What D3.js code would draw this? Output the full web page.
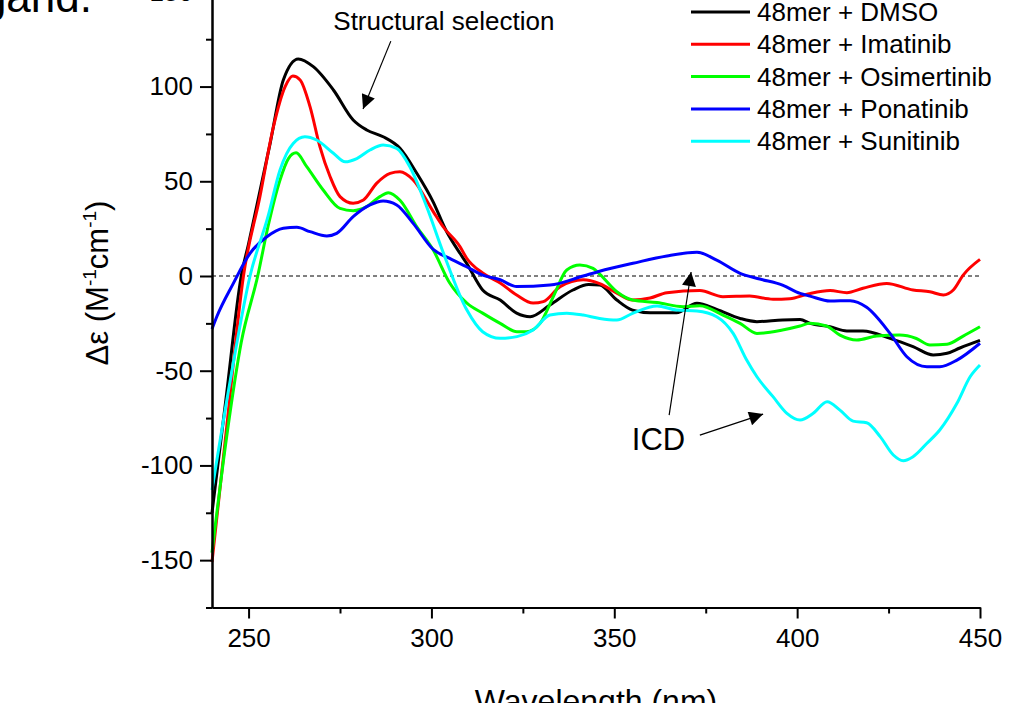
<!DOCTYPE html>
<html>
<head>
<meta charset="utf-8">
<script src="https://cdn.jsdelivr.net/npm/d3@7"></script>
<style>
  body { margin: 0; background: #fff; }
  svg { display: block; font-family: Arial, "Liberation Sans", sans-serif; }
  .axis path, .axis line { stroke: #000; stroke-width: 2px; }
  .axis text { font-size: 26px; fill: #000; font-family: Arial, "Liberation Sans", sans-serif; }
</style>
</head>
<body>
<div id="chart"></div>
<script>
// ---- data ----
var seriesNames = ["48mer + DMSO", "48mer + Imatinib", "48mer + Osimertinib", "48mer + Ponatinib", "48mer + Sunitinib"];
var seriesColors = ["#000000", "#ff0000", "#00ff00", "#0000ff", "#00ffff"];

var dmso = [[240,-125],[244,-62],[248,0],[250,17],[252.2,36.6],[255.9,70],[259.5,103.5],[263.6,114.6],[267.7,110.5],[273.2,98.2],[278.6,82.4],[282.3,77.1],[286.8,73.5],[291.4,67.4],[296,54.2],[300.5,39],[304,24],[307.8,12],[309.6,6.8],[314,-7.4],[318.8,-12.7],[323.3,-19.6],[327,-21.5],[332.4,-15.3],[338.7,-7.4],[343,-4.5],[346,-4.8],[350.7,-12.7],[355,-18],[359.8,-19.4],[367,-19.4],[372.6,-14.4],[378,-17.6],[384.4,-22.4],[389,-24.1],[396,-23.2],[400.8,-23],[403.5,-25],[409,-26.8],[413.6,-29],[418,-29],[425.4,-32.9],[431.7,-37.3],[437.2,-41.7],[441,-40.8],[444.5,-38],[450,-34]];

var imatinib = [[240,-151],[244,-80],[248.6,0],[253.1,41.9],[256.8,78.8],[260,100],[262.1,105.6],[264.1,103.5],[266.8,89.4],[269.5,68.3],[272.3,52.4],[275,41.9],[278.6,38.4],[281.4,40.1],[285,48.9],[288.7,54.2],[291.4,55],[295,50.7],[300.5,34],[303.2,26],[307.8,15.5],[309.6,9.5],[314,1.6],[318.8,-3.7],[323.3,-10],[327.8,-14.3],[330.6,-13.5],[335.2,-5.6],[341.5,-2],[346,-4],[350.7,-9],[355,-12.7],[359.8,-11.6],[364.4,-8.8],[373.4,-7.7],[379.7,-10.9],[387,-10.6],[393.4,-12.3],[398,-12],[403,-9.5],[409,-7.7],[413.6,-8.8],[418,-6.5],[424.5,-3.9],[431.7,-7.4],[436.3,-8.3],[440,-10],[442.7,-7.4],[445.4,0.5],[450,8.8]];

var osimertinib = [[240,-146],[244,-85],[248,-35],[252.5,0],[255.3,26],[258.6,50.7],[260.9,62],[263,65],[265.9,57.7],[270.4,45.4],[275,35.7],[278.6,34.5],[282.3,36.6],[285.9,41.9],[288.2,44],[291.4,40],[296,26],[300.5,13.7],[305,-3.7],[309.7,-14.3],[314,-19.6],[318.8,-25],[323.4,-29.4],[326,-29.4],[329.7,-25],[333.3,-11],[337,3.2],[340.6,5.8],[344.2,4],[346,1],[350.7,-8.3],[355,-12.7],[361.7,-14],[368.8,-16.2],[373.4,-15.7],[379.7,-20.6],[384.4,-25],[389,-30.3],[396,-28.5],[400.8,-26.4],[403.5,-25],[408,-26.4],[411.7,-31.2],[416.3,-33.8],[421.8,-31.7],[428,-31.2],[432.6,-33],[436.3,-36.4],[441,-36],[445.4,-31.7],[450,-26.8]];

var ponatinib = [[240,-28],[241.3,-21.5],[245.8,-4],[250.4,12],[255,20.7],[259.5,25.2],[263.2,25.7],[266.8,23.4],[271.4,21.1],[274.1,22.5],[278.6,31.3],[283.2,37.5],[286.8,39.6],[290.5,37.5],[295,27.8],[300.5,14],[305,9.3],[309.6,4.9],[314,0.5],[318.8,-2],[323.3,-5.6],[332.4,-4.8],[341.5,0],[346,2.5],[355.1,6.7],[364.4,10.6],[372.6,12.5],[378,8.4],[384.4,1.4],[389.8,-1.6],[396,-4.8],[400.8,-9.2],[403.5,-10.6],[409,-13.2],[414.5,-13],[419,-16.5],[425.4,-30.3],[430,-42.6],[435.5,-47.9],[439,-47.9],[443.7,-44.4],[450,-35.5]];

var sunitinib = [[240,-113],[245,-55],[250.4,0],[255.3,31.3],[258.6,56],[262.2,70],[265.4,73.5],[268.6,71.8],[273.2,64.8],[276.4,60.3],[279.6,62],[283.2,66.5],[286.8,69.2],[290.5,67.4],[294.1,57.7],[298.7,36.6],[303.3,12],[309.7,-18],[314,-29.4],[318.8,-32.9],[323.4,-32],[327.8,-28.5],[332.4,-20.6],[337,-19.6],[341.5,-20.6],[346,-22.4],[350.7,-23.2],[355,-19.7],[361.7,-15.8],[367,-18],[372.6,-18.5],[378,-21.5],[382.5,-30.3],[386.2,-44.4],[389,-53.2],[393.4,-63.7],[397.2,-72.5],[400.8,-76],[404.4,-72.5],[408.2,-66.4],[411.7,-70.8],[415.3,-76.6],[419,-77.5],[422.7,-84.8],[426.3,-94.5],[429,-97.5],[431.7,-95.4],[435.5,-88.3],[439,-81.3],[443.7,-67.2],[447.3,-53.2],[450,-47]];

var allSeries = [dmso, imatinib, osimertinib, ponatinib, sunitinib];

var xMajorTicks = [250, 300, 350, 400, 450];
var xMinorTicks = [275, 325, 375, 425];
var yMajorTicks = [-150, -100, -50, 0, 50, 100, 150];
var yMinorTicks = [-175, -125, -75, -25, 25, 75, 125, 175];

// annotations in data units: [x1, y1, x2, y2]
var arrows = [[288.9, 124, 281.3, 88.2], [365, -73.4, 371, 2.1], [373.4, -84, 390.7, -72.9]];

// ---- layout ----
var margin = { top: -55.5, left: 212 };
var width = 768;
var height = 663;

var svg = d3.select("#chart")
  .append("svg")
  .attr("width", 1033)
  .attr("height", 703);

var defs = svg.append("defs");
defs.append("marker")
  .attr("id", "head")
  .attr("viewBox", "0 0 10 10")
  .attr("refX", 10)
  .attr("refY", 5)
  .attr("markerWidth", 22)
  .attr("markerHeight", 14)
  .attr("markerUnits", "userSpaceOnUse")
  .attr("orient", "auto")
  .append("path")
  .attr("d", "M0,0 L10,5 L0,10 Z")
  .attr("fill", "#000");

// caption fragment cut off at the top
svg.append("text")
  .attr("x", 92)
  .attr("y", 12)
  .attr("text-anchor", "end")
  .style("font-size", "44px")
  .text("ligand.");

var g = svg.append("g")
  .attr("transform", "translate(" + margin.left + "," + margin.top + ")");

var x = d3.scaleLinear().domain([240, 450]).range([0, width]);
var y = d3.scaleLinear().domain([-175, 175]).range([height, 0]);

// zero line
g.append("line")
  .attr("x1", x(240)).attr("x2", x(450))
  .attr("y1", y(0)).attr("y2", y(0))
  .attr("stroke", "#000")
  .attr("stroke-width", 1)
  .attr("stroke-dasharray", "4,3");

// curves
var line = d3.line()
  .x(function (d) { return x(d[0]); })
  .y(function (d) { return y(d[1]); })
  .curve(d3.curveMonotoneX);

g.append("g")
  .selectAll("path")
  .data(allSeries)
  .enter()
  .append("path")
  .attr("d", line)
  .attr("fill", "none")
  .attr("stroke", function (d, i) { return seriesColors[i]; })
  .attr("stroke-width", 3)
  .attr("stroke-linejoin", "round");

// axes (plain hyphen for negatives, like the original)
var plain = function (d) { return String(d); };

g.append("g")
  .attr("class", "axis")
  .attr("transform", "translate(0," + height + ")")
  .call(d3.axisBottom(x).tickValues(xMinorTicks).tickSize(6).tickFormat("").tickSizeOuter(0));
g.append("g")
  .attr("class", "axis")
  .attr("transform", "translate(0," + height + ")")
  .call(d3.axisBottom(x).tickValues(xMajorTicks).tickSize(11).tickPadding(10).tickFormat(plain).tickSizeOuter(0));

g.append("g")
  .attr("class", "axis")
  .call(d3.axisLeft(y).tickValues(yMinorTicks).tickSize(6).tickFormat("").tickSizeOuter(0));
g.append("g")
  .attr("class", "axis")
  .call(d3.axisLeft(y).tickValues(yMajorTicks).tickSize(12).tickPadding(7).tickFormat(plain).tickSizeOuter(0));

// axis titles
var yTitle = svg.append("text")
  .attr("transform", "translate(108,283) rotate(-90)")
  .attr("text-anchor", "middle")
  .style("font-size", "31px");
yTitle.append("tspan").text("\u0394\u03b5 (M");
yTitle.append("tspan").attr("dy", -12).style("font-size", "19px").text("-1");
yTitle.append("tspan").attr("dy", 12).text("cm");
yTitle.append("tspan").attr("dy", -12).style("font-size", "19px").text("-1");
yTitle.append("tspan").attr("dy", 12).text(")");

svg.append("text")
  .attr("x", margin.left + x(345))
  .attr("y", 712)
  .attr("text-anchor", "middle")
  .style("font-size", "32px")
  .text("Wavelength (nm)");

// annotations
g.append("text")
  .attr("x", x(303.4))
  .attr("y", y(130))
  .attr("text-anchor", "middle")
  .style("font-size", "26px")
  .text("Structural selection");

g.append("text")
  .attr("x", x(354.8))
  .attr("y", y(-91.9))
  .style("font-size", "31px")
  .text("ICD");

g.append("g")
  .selectAll("line")
  .data(arrows)
  .enter()
  .append("line")
  .attr("x1", function (d) { return x(d[0]); })
  .attr("y1", function (d) { return y(d[1]); })
  .attr("x2", function (d) { return x(d[2]); })
  .attr("y2", function (d) { return y(d[3]); })
  .attr("stroke", "#000")
  .attr("stroke-width", 1.2)
  .attr("marker-end", "url(#head)");

// legend
var legend = svg.append("g")
  .selectAll("g")
  .data(seriesNames)
  .enter()
  .append("g")
  .attr("transform", function (d, i) { return "translate(691," + (12 + i * 32.3) + ")"; });

legend.append("line")
  .attr("x1", 0).attr("x2", 59)
  .attr("stroke", function (d, i) { return seriesColors[i]; })
  .attr("stroke-width", 3);

legend.append("text")
  .attr("x", 66)
  .attr("dy", "0.35em")
  .style("font-size", "26px")
  .text(function (d) { return d; });
</script>
</body>
</html>
